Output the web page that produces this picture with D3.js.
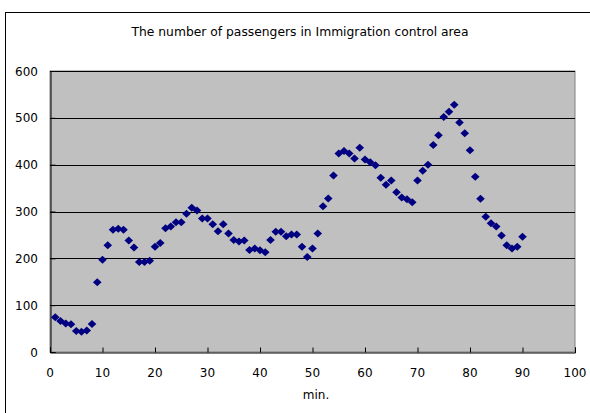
<!DOCTYPE html>
<html>
<head>
<meta charset="utf-8">
<script src="https://cdn.jsdelivr.net/npm/d3@7"></script>
<style>
  html, body { margin: 0; padding: 0; background: #fff; }
  svg { display: block; }
  text { font-family: "DejaVu Sans", sans-serif; fill: #000; }
</style>
</head>
<body>
<svg id="chart" width="590" height="413"></svg>
<script>
// Minutes since start of observation
const minutes = d3.range(1, 91);

// Passengers counted in the immigration control area, one value per minute
const passengers = [
  74, 66, 61, 59, 45, 43, 46, 60, 149, 197,
  228, 261, 263, 261, 238, 223, 192, 192, 195, 225,
  233, 264, 268, 277, 277, 295, 308, 302, 285, 285,
  273, 258, 273, 253, 239, 236, 238, 218, 221, 217,
  213, 239, 257, 257, 247, 251, 251, 225, 203, 221,
  253, 311, 328, 377, 424, 429, 424, 413, 436, 411,
  405, 399, 372, 357, 366, 341, 330, 326, 320, 366,
  387, 400, 442, 463, 502, 513, 528, 490, 467, 431,
  374, 327, 289, 275, 268, 249, 228, 221, 225, 246
];

const xTicks = [0, 10, 20, 30, 40, 50, 60, 70, 80, 90, 100];
const yTicks = [0, 100, 200, 300, 400, 500, 600];

const titleText = "The number of passengers in Immigration control area";
const xLabel = "min.";

const svg = d3.select("#chart");

// Outer chart frame (continues past the right and bottom edges)
svg.append("rect")
  .attr("x", 5.5).attr("y", 12.5)
  .attr("width", 620).attr("height", 420)
  .attr("fill", "#fff").attr("stroke", "#000").attr("stroke-width", 1);

const plot = { left: 50, right: 575, top: 71, bottom: 352 };

const x = d3.scaleLinear().domain([0, 100]).range([plot.left, plot.right]);
const y = d3.scaleLinear().domain([0, 600]).range([plot.bottom, plot.top]);

// Plot background
svg.append("rect")
  .attr("x", plot.left).attr("y", plot.top)
  .attr("width", plot.right - plot.left).attr("height", plot.bottom - plot.top)
  .attr("fill", "#c0c0c0")
  .attr("stroke", "#808080").attr("stroke-width", 1);

// Horizontal gridlines
svg.append("g")
  .selectAll("line")
  .data(yTicks.filter(v => v > 0))
  .join("line")
  .attr("x1", plot.left).attr("x2", plot.right)
  .attr("y1", d => Math.round(y(d)) + 0.5).attr("y2", d => Math.round(y(d)) + 0.5)
  .attr("stroke", "#000").attr("stroke-width", 1);

// Y axis
const yAxis = svg.append("g")
  .attr("transform", `translate(${plot.left + 0.5},0)`)
  .call(d3.axisRight(y).tickValues(yTicks).tickSize(5).tickFormat(""));
yAxis.select(".domain").attr("stroke", "#000");
yAxis.selectAll(".tick line").attr("stroke", "#000");

svg.append("g")
  .selectAll("text")
  .data(yTicks)
  .join("text")
  .attr("x", 38)
  .attr("y", d => y(d) + 4.5)
  .attr("text-anchor", "end")
  .attr("font-size", 12)
  .text(d => d);

// X axis
const xAxis = svg.append("g")
  .attr("transform", `translate(0,${plot.bottom + 0.5})`)
  .call(d3.axisTop(x).tickValues(xTicks).tickSize(5).tickFormat(""));
xAxis.select(".domain").attr("stroke", "#000");
xAxis.selectAll(".tick line").attr("stroke", "#000");

svg.append("g")
  .selectAll("text")
  .data(xTicks)
  .join("text")
  .attr("x", d => x(d))
  .attr("y", 377)
  .attr("text-anchor", "middle")
  .attr("font-size", 12)
  .text(d => d);

// Axis title
svg.append("text")
  .attr("x", 316).attr("y", 399)
  .attr("text-anchor", "middle")
  .attr("font-size", 12)
  .text(xLabel);

// Chart title
svg.append("text")
  .attr("x", 300).attr("y", 36)
  .attr("text-anchor", "middle")
  .attr("font-size", 12)
  .attr("textLength", 337)
  .attr("lengthAdjust", "spacingAndGlyphs")
  .text(titleText);

// Diamond markers
const sx = 4.3, sy = 4;
const diamond = `M0,${-sy}L${sx},0L0,${sy}L${-sx},0Z`;
svg.append("g")
  .selectAll("path")
  .data(minutes.map((m, i) => [m, passengers[i]]))
  .join("path")
  .attr("transform", d => `translate(${x(d[0])},${y(d[1])})`)
  .attr("d", diamond)
  .attr("fill", "#000080");
</script>
</body>
</html>
